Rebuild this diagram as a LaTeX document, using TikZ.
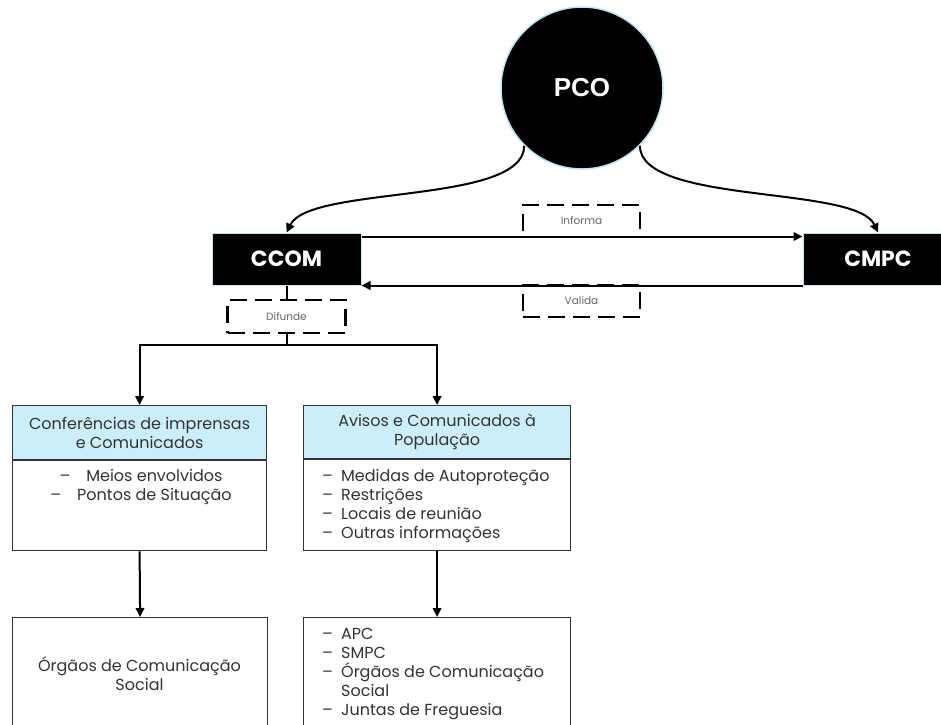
\documentclass[tikz,border=0pt]{standalone}
\usepackage{fontspec}
\setmainfont{Poppins}
\newfontfamily\arialfont{Liberation Sans}
\usetikzlibrary{arrows.meta,calc}
\definecolor{hdrblue}{HTML}{CCEEFA}
\definecolor{edgeblue}{HTML}{BFE4F2}
\definecolor{txt}{HTML}{333333}
\begin{document}
\begin{tikzpicture}[x=1pt,y=-1pt,
  conn/.style={line width=2pt, -{Triangle[length=9pt,width=8.5pt]}},
  solidline/.style={line width=2pt},
  blackbox/.style={draw=edgeblue, line width=1pt, fill=black, text=white, font=\fontsize{22}{26}\selectfont\bfseries, minimum width=149pt, minimum height=52pt, inner sep=0pt},
  dashbox/.style={draw=black, dash pattern=on 17pt off 8pt, line width=2.2pt, minimum width=117pt, minimum height=32pt, inner sep=0pt, text=black!60, font=\fontsize{10.5}{12}\selectfont},
  hdr/.style={draw=txt, line width=1.2pt, fill=hdrblue, text=txt, align=center, font=\fontsize{16}{19}\selectfont, inner sep=0pt, anchor=north west},
  boxframe/.style={draw=txt, line width=1.2pt, inner sep=0pt, anchor=north west},
  lst/.style={text=txt, font=\fontsize{16}{19}\selectfont, inner sep=0pt},
]
\clip (0,0) rectangle (941,724);
\fill[white] (0,0) rectangle (941,724);

% top nodes
\node[circle, draw=edgeblue, line width=1.5pt, fill=black, minimum size=162pt, inner sep=0pt, text=white, font=\arialfont\fontsize{26}{30}\selectfont\bfseries] (pco) at (582,88) {PCO};
\node[blackbox] (ccom) at (286.5,259) {CCOM};
\node[blackbox, minimum width=150pt] (cmpc) at (878,259) {CMPC};

% curves from PCO
\draw[conn] (pco.225) .. controls (524,205) and (310,185) .. (ccom.north);
\draw[conn] (pco.-45) .. controls (641,205) and (856,185) .. (cmpc.north);

% CCOM <-> CMPC
\draw[conn] ($(ccom.north east)+(0,4)$) -- ($(cmpc.north west)+(0,4)$);
\draw[conn] (cmpc.south west) -- (ccom.south east);
\node[dashbox] (informa) at (581.5,221) {Informa};
\node[dashbox] (valida) at (581.5,301) {Valida};

% Difunde
\coordinate (split) at (286.5,345);
\draw[solidline] (ccom.south) -- (split);
\node[dashbox, fill=white, minimum width=118pt, minimum height=33pt] (difunde) at (286.5,316.5) {Difunde};

% middle boxes
\node[hdr, minimum width=254pt, minimum height=54pt] (h1) at (12,405) {Conferências de imprensas\\e Comunicados};
\node[boxframe, anchor=north, minimum width=254pt, minimum height=90pt] (b1) at (h1.south) {};
\node[lst, align=center] (l1) at (141,486.5) {–\hspace{16pt}Meios envolvidos\\–\hspace{16pt}Pontos de Situação};

\node[hdr, minimum width=267pt, minimum height=53pt] (h2) at (303,405) {Avisos e Comunicados à\\População};
\node[boxframe, anchor=north, minimum width=267pt, minimum height=91pt] (b2) at (h2.south) {};
\node[lst, align=left, anchor=west] (l2) at (322,505.5) {\makebox[19pt][l]{–}Medidas de Autoproteção\\\makebox[19pt][l]{–}Restrições\\\makebox[19pt][l]{–}Locais de reunião\\\makebox[19pt][l]{–}Outras informações};

\draw[conn] (split) -| (h1.north);
\draw[conn] (split) -| (h2.north);

% bottom boxes
\node[boxframe, minimum width=255pt, minimum height=130pt] (o1) at (12,617) {};
\node[lst, align=center] (t1) at (139.5,673.5) {Órgãos de Comunicação\\Social};
\node[boxframe, minimum width=267pt, minimum height=130pt] (o2) at (303,617) {};
\node[lst, align=left, anchor=west] (t2) at (322,673.5) {\makebox[19pt][l]{–}APC\\\makebox[19pt][l]{–}SMPC\\\makebox[19pt][l]{–}Órgãos de Comunicação\\\hspace*{19pt}Social\\\makebox[19pt][l]{–}Juntas de Freguesia};

\draw[conn] (b1.south) -- (o1.north);
\draw[conn] (b2.south) -- (o2.north);
\end{tikzpicture}
\end{document}
